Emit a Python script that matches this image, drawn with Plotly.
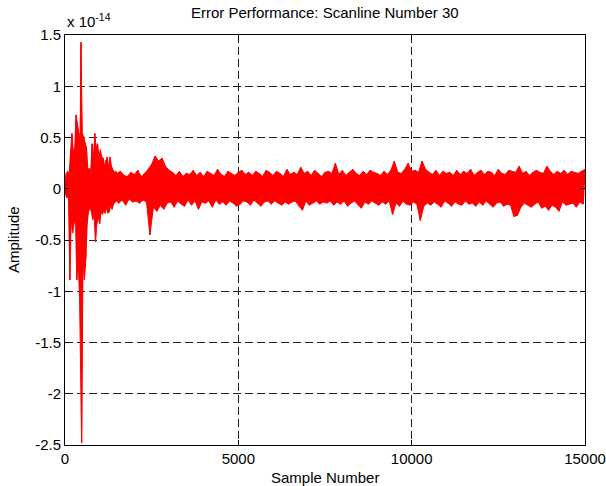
import plotly.graph_objects as go

# Amplitude values in units of 1e-14
early_step = 20          # samples 0..1500
early_amplitude = [
    0.08, -0.06, 0.15, -0.09, 0.17, -0.05, 0.12, -0.89, 0.36, -0.30,
    0.54, -0.43, 0.36, -0.34, 0.40, -0.25, 0.72, -0.89, 0.62, -0.69,
    0.54, -1.05, 0.45, 1.43, -2.48, 0.54, -0.69, 0.50, -0.89, 0.44,
    -0.69, 0.40, -0.34, 0.18, -0.22, 0.20, -0.18, 0.16, -0.22, 0.44,
    -0.30, 0.30, -0.25, 0.54, -0.52, 0.40, -0.34, 0.44, -0.28, 0.31,
    -0.34, 0.38, -0.22, 0.31, -0.25, 0.30, -0.21, 0.22, -0.24, 0.28,
    -0.18, 0.31, -0.24, 0.20, -0.22, 0.31, -0.16, 0.22, -0.20, 0.18,
    -0.15, 0.16, -0.13, 0.17, -0.12, 0.15,
]
late_start = 1550
late_step = 50           # samples 1550..15000
late_amplitude = [
    -0.14, 0.17, -0.11, 0.13, -0.16, 0.12, -0.10, 0.16, -0.13, 0.14,
    -0.12, 0.18, -0.14, 0.12, -0.11, 0.15, -0.13, 0.19, -0.45, 0.24,
    -0.18, 0.32, -0.22, 0.27, -0.16, 0.30, -0.20, 0.22, -0.14, 0.18,
    -0.13, 0.16, -0.18, 0.13, -0.12, 0.17, -0.15, 0.12, -0.17, 0.15,
    -0.11, 0.14, -0.16, 0.18, -0.12, 0.13, -0.20, 0.16, -0.13, 0.12,
    -0.14, 0.17, -0.12, 0.15, -0.18, 0.13, -0.11, 0.19, -0.15, 0.14,
    -0.13, 0.12, -0.16, 0.17, -0.12, 0.15, -0.14, 0.13, -0.17, 0.16,
    -0.15, 0.18, -0.12, 0.14, -0.13, 0.16, -0.16, 0.13, -0.11, 0.17,
    -0.14, 0.15, -0.17, 0.12, -0.13, 0.18, -0.12, 0.16, -0.15, 0.13,
    -0.12, 0.17, -0.14, 0.15, -0.16, 0.12, -0.13, 0.19, -0.15, 0.14,
    -0.13, 0.16, -0.12, 0.14, -0.17, 0.21, -0.21, 0.15, -0.12, 0.17,
    -0.16, 0.13, -0.14, 0.18, -0.12, 0.15, -0.15, 0.12, -0.13, 0.16,
    -0.14, 0.17, -0.12, 0.15, -0.16, 0.25, -0.13, 0.14, -0.15, 0.18,
    -0.12, 0.13, -0.17, 0.16, -0.14, 0.19, -0.12, 0.15, -0.16, 0.13,
    -0.19, 0.17, -0.13, 0.14, -0.15, 0.18, -0.12, 0.16, -0.14, 0.15,
    -0.16, 0.13, -0.13, 0.17, -0.15, 0.14, -0.12, 0.18, -0.25, 0.27,
    -0.14, 0.16, -0.17, 0.15, -0.12, 0.19, -0.15, 0.25, -0.16, 0.17,
    -0.13, 0.18, -0.15, 0.16, -0.31, 0.27, -0.17, 0.19, -0.14, 0.16,
    -0.16, 0.14, -0.13, 0.18, -0.15, 0.13, -0.18, 0.17, -0.12, 0.15,
    -0.14, 0.16, -0.17, 0.13, -0.13, 0.18, -0.15, 0.14, -0.16, 0.17,
    -0.12, 0.15, -0.15, 0.19, -0.14, 0.13, -0.17, 0.16, -0.13, 0.18,
    -0.16, 0.14, -0.12, 0.17, -0.15, 0.16, -0.18, 0.13, -0.14, 0.19,
    -0.13, 0.15, -0.17, 0.14, -0.15, 0.18, -0.16, 0.17, -0.27, 0.16,
    -0.26, 0.22, -0.18, 0.15, -0.14, 0.17, -0.16, 0.13, -0.18, 0.16,
    -0.15, 0.18, -0.13, 0.16, -0.19, 0.15, -0.17, 0.22, -0.21, 0.17,
    -0.16, 0.14, -0.18, 0.17, -0.22, 0.15, -0.13, 0.18, -0.16, 0.14,
    -0.15, 0.17, -0.14, 0.16, -0.18, 0.15, -0.13, 0.17, -0.15, 0.19,
]

x_ticks = [0, 5000, 10000, 15000]
x_tick_labels = ["0", "5000", "10000", "15000"]
y_ticks = [1.5, 1.0, 0.5, 0.0, -0.5, -1.0, -1.5, -2.0, -2.5]
y_tick_labels = ["1.5", "1", "0.5", "0", "-0.5", "-1", "-1.5", "-2", "-2.5"]

title_text = "Error Performance: Scanline Number 30"
x_title = "Sample Number"
y_title = "Amplitude"

samples = [i * early_step for i in range(len(early_amplitude))] + \
          [late_start + i * late_step for i in range(len(late_amplitude))]
amplitude = early_amplitude + late_amplitude

# Upper / lower envelopes of the dense trace (same data, split by sign)
up_x = [s for s, v in zip(samples, amplitude) if v >= 0]
up_y = [v for v in amplitude if v >= 0]
lo_x = [s for s, v in zip(samples, amplitude) if v < 0]
lo_y = [v for v in amplitude if v < 0]

FONT = "Liberation Sans, Arial, sans-serif"
RED = "#ff0000"

fig = go.Figure()
fig.add_trace(go.Scatter(x=up_x, y=up_y, mode="lines", line=dict(color=RED, width=1),
                         showlegend=False, hoverinfo="skip"))
fig.add_trace(go.Scatter(x=lo_x, y=lo_y, mode="lines", line=dict(color=RED, width=1),
                         fill="tonexty", fillcolor=RED,
                         showlegend=False, hoverinfo="skip"))
fig.add_trace(go.Scatter(x=samples, y=amplitude, mode="lines",
                         line=dict(color=RED, width=1.2), showlegend=False,
                         hoverinfo="skip"))

axis_common = dict(showline=True, linecolor="black", linewidth=1, mirror="ticks",
                   ticks="inside", ticklen=5, tickcolor="black", automargin=False,
                   showgrid=True, gridcolor="#222222", gridwidth=1, griddash="8px,4px",
                   zeroline=False, tickfont=dict(family=FONT, size=15, color="black"))

fig.update_xaxes(range=[0, 15000], tickvals=x_ticks, ticktext=x_tick_labels, **axis_common)
fig.update_yaxes(range=[-2.5, 1.5], tickvals=y_ticks, ticktext=y_tick_labels, **axis_common)

fig.update_layout(
    width=606, height=486,
    margin=dict(l=65, r=21, t=35, b=41, autoexpand=False),
    paper_bgcolor="white", plot_bgcolor="white",
    font=dict(family=FONT, size=15, color="black"),
    annotations=[
        dict(text=title_text, xref="paper", yref="paper", x=0.5, y=1, yshift=23,
             xanchor="center", yanchor="middle", showarrow=False,
             font=dict(family=FONT, size=15)),
        dict(text=x_title, xref="paper", yref="paper", x=0.5, y=0, yshift=-32,
             xanchor="center", yanchor="middle", showarrow=False,
             font=dict(family=FONT, size=15)),
        dict(text=y_title, xref="paper", yref="paper", x=0, y=0.5, xshift=-52,
             xanchor="center", yanchor="middle", textangle=-90, showarrow=False,
             font=dict(family=FONT, size=15)),
        dict(text="x 10<sup>-14</sup>", xref="paper", yref="paper", x=0, y=1, yshift=3,
             xanchor="left", yanchor="bottom", showarrow=False,
             font=dict(family=FONT, size=15)),
    ],
)

fig.write_html("out.html", config={"displayModeBar": False},
               post_script="document.body.style.margin='0';document.body.style.overflow='hidden';")
